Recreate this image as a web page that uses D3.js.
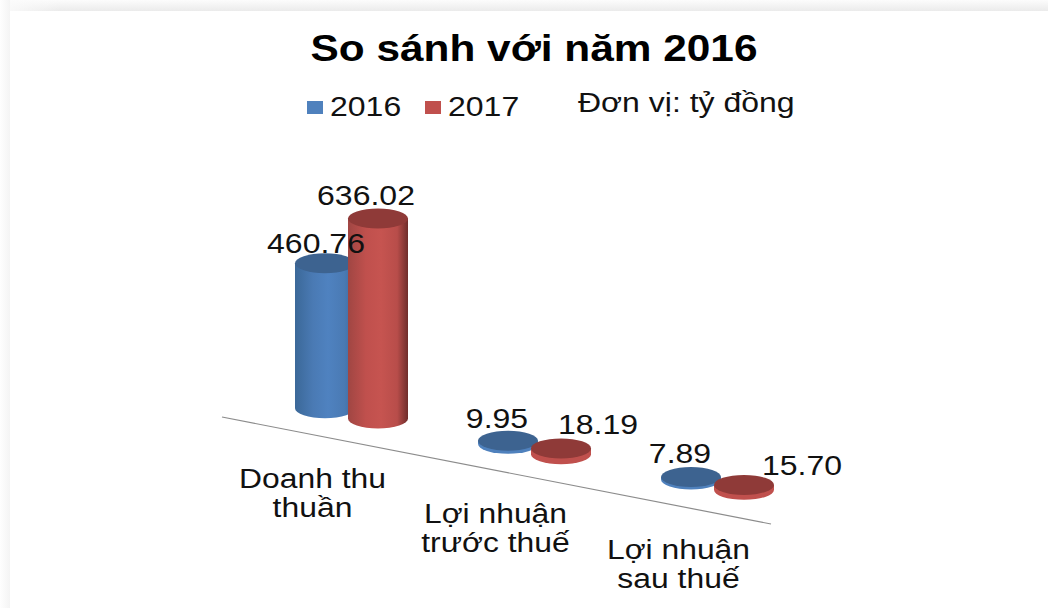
<!DOCTYPE html>
<html><head><meta charset="utf-8">
<script src="https://cdn.jsdelivr.net/npm/d3@7"></script>
<style>
html,body{margin:0;padding:0;background:#fff;overflow:hidden}
svg{display:block;position:absolute;left:0;top:0}
text{font-family:"Liberation Sans",Arial,sans-serif;fill:#111}
</style></head><body>
<div style="position:absolute;left:0;top:0;width:1048px;height:11px;background:linear-gradient(#fcfcfc,#ebebeb)"></div>
<div style="position:absolute;left:0;top:0;width:60px;height:11px;background:linear-gradient(90deg,#fbfbfb,rgba(251,251,251,0))"></div>
<div style="position:absolute;left:0;top:0;width:10px;height:608px;background:linear-gradient(90deg,#fefefe,#f4f4f4)"></div>
<div style="position:absolute;left:10px;top:11px;width:1038px;height:597px;background:#fff"></div>
<svg id="c" width="1048" height="608"></svg>
<script>
const titleText = "So sánh với năm 2016";
const unitText = "Đơn vị: tỷ đồng";
const categories = ["Doanh thu thuần", "Lợi nhuận trước thuế", "Lợi nhuận sau thuế"];
const categoryLines = [["Doanh thu", "thuần"], ["Lợi nhuận", "trước thuế"], ["Lợi nhuận", "sau thuế"]];
const seriesNames = ["2016", "2017"];
const values2016 = [460.76, 9.95, 7.89];
const values2017 = [636.02, 18.19, 15.70];
const labels2016 = ["460.76", "9.95", "7.89"];
const labels2017 = ["636.02", "18.19", "15.70"];

const W = 1048, H = 608, STRETCH = 1.185;
const svg = d3.select("#c");
const defs = svg.append("defs");

// Slanted floor: x along the axis, y falling with x
const axisX0 = 222, axisX1 = 771, axisY0 = 417, axisY1 = 524;
const floorY = d3.scaleLinear().domain([axisX0, axisX1]).range([axisY0, axisY1]);
const x0 = d3.scaleBand().domain(categories).range([axisX0, axisX1]);
const x1 = d3.scaleBand().domain(seriesNames).range([-53, 53]);
const h = d3.scaleLinear().domain([0, 636.02]).range([0, 200]);
const depthX = 38, depthY = 29, rx = 30, ry = 10;

const palette = {
  "2016": {side: ["#3b6898", "#4a7ab4", "#4f82c0", "#4a7ab4", "#3c6a9c"], top: "#3d6390", swatch: "#4f81bd"},
  "2017": {side: ["#a04643", "#c0504d", "#c65450", "#b84d4a", "#6f2d2b"], top: "#8f3a38", swatch: "#c0504d"}
};
seriesNames.forEach(s => {
  const g = defs.append("linearGradient").attr("id", "g" + s);
  palette[s].side.forEach((c, i) => g.append("stop")
    .attr("offset", [0, .3, .55, .82, 1][i]).attr("stop-color", c));
});

function stretched(sel, f) {
  sel.each(function () {
    const len = this.getComputedTextLength();
    d3.select(this).attr("textLength", len * f).attr("lengthAdjust", "spacingAndGlyphs");
  });
  return sel;
}

// Title
stretched(svg.append("text").attr("x", 534).attr("y", 61).attr("text-anchor", "middle")
  .attr("font-size", 36).attr("font-weight", 700).style("fill", "#000").text(titleText), 1.177);

// Legend
const legendX = d3.scaleOrdinal().domain(seriesNames).range([307, 425]);
seriesNames.forEach(s => {
  svg.append("rect").attr("x", legendX(s)).attr("y", 101).attr("width", 16).attr("height", 13)
    .attr("fill", palette[s].swatch);
  stretched(svg.append("text").attr("x", legendX(s) + 23).attr("y", 116)
    .attr("font-size", 27).text(s), STRETCH);
});
stretched(svg.append("text").attr("x", 578).attr("y", 112).attr("font-size", 27).text(unitText), 1.185);

// Axis
svg.append("line").attr("x1", x0.range()[0]).attr("x2", x0.range()[1])
  .attr("y1", floorY(axisX0)).attr("y2", floorY(axisX1))
  .attr("stroke", "#8c8c8c").attr("stroke-width", 1.2);

// Category labels
categories.forEach((c, i) => {
  const cx = x0(c) + x0.bandwidth() / 2 - 1;
  categoryLines[i].forEach((t, j) => {
    stretched(svg.append("text").attr("x", cx).attr("y", floorY(cx) + 53 + j * 29)
      .attr("text-anchor", "middle").attr("font-size", 27).text(t), 1.18);
  });
});

// Cylinders
const rows = [];
seriesNames.forEach((s, si) => {
  const vals = si ? values2017 : values2016, labs = si ? labels2017 : labels2016;
  categories.forEach((c, i) => rows.push({s, c, i, v: vals[i], lab: labs[i]}));
});
const cxOf = d => x0(d.c) + x0.bandwidth() / 2 + depthX + x1(d.s) + x1.bandwidth() / 2;
const baseOf = d => floorY(cxOf(d) - depthX) - depthY + 7.5;

const marks = svg.selectAll("g.bar").data(rows.slice().sort((a, b) => cxOf(a) - cxOf(b)))
  .join("g").attr("class", "bar");
marks.append("path")
  .attr("d", d => {
    const cx = cxOf(d), b = baseOf(d), t = b - h(d.v);
    return `M${cx - rx},${t}L${cx - rx},${b}A${rx},${ry} 0 0 0 ${cx + rx},${b}L${cx + rx},${t}Z`;
  })
  .attr("fill", d => d.v > 100 ? `url(#g${d.s})` : (d.s === "2016" ? "#4f81bd" : "#c0504d"));
marks.append("ellipse")
  .attr("cx", cxOf).attr("cy", d => baseOf(d) - h(d.v))
  .attr("rx", rx).attr("ry", ry).attr("fill", d => palette[d.s].top);

// Value labels
const labelDx = [[-9, -11, -11], [-12, 37, 58]];
const labelDy = [[-10, -13, -14], [-13, -14, -10]];
rows.forEach(d => {
  const si = seriesNames.indexOf(d.s);
  stretched(svg.append("text")
    .attr("x", cxOf(d) + labelDx[si][d.i])
    .attr("y", baseOf(d) - h(d.v) + labelDy[si][d.i])
    .attr("text-anchor", "middle").attr("font-size", 27).text(d.lab), STRETCH);
});
</script>
</body></html>
